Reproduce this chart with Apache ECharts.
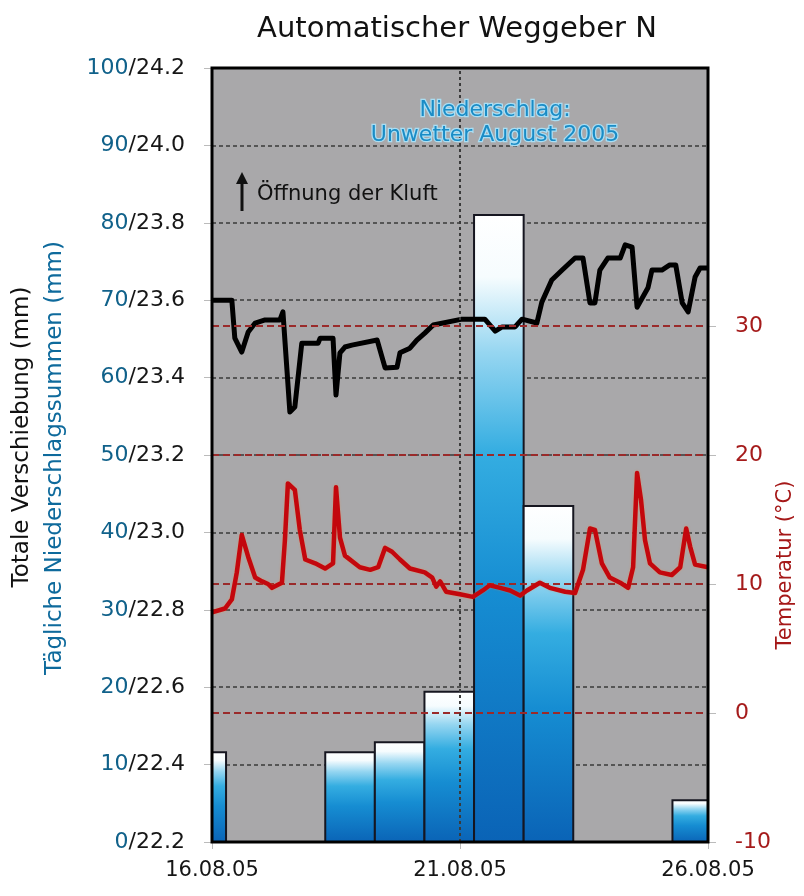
<!DOCTYPE html>
<html><head><meta charset="utf-8">
<script src="https://cdn.jsdelivr.net/npm/echarts@6/dist/echarts.min.js"></script>
<style>html,body{margin:0;padding:0;background:#fff}#c{width:804px;height:896px}</style>
</head><body><div id="c"></div>
<script>
// ---- data ----
const xTickLabels = ['16.08.05', '21.08.05', '26.08.05'];          // every 5 days from 16.08.05
const rainTicks = [0, 10, 20, 30, 40, 50, 60, 70, 80, 90, 100];
const dispTicks = ['22.2', '22.4', '22.6', '22.8', '23.0', '23.2', '23.4', '23.6', '23.8', '24.0', '24.2'];
const tempTicks = [-10, 0, 10, 20, 30];
const tempGrid = [0, 10, 20, 30];

// daily precipitation: day offset from 16.08.05 of the measuring period start, mm
const rainDayOffset = [-1, 2, 3, 4, 5, 6, 9];
const rainMm = [11.6, 11.6, 12.9, 19.4, 81.0, 43.4, 5.4];
const rainStartHour = 6.8;

// total displacement (mm), day offset from 16.08.05 00:00
const dispDay = [0,0.40,0.46,0.60,0.73,0.87,1.07,1.37,1.43,1.57,1.67,1.81,2.14,2.18,2.44,2.50,2.58,2.68,2.82,3.33,3.49,3.73,3.79,3.99,4.13,4.29,4.46,5.04,5.50,5.71,5.85,6.11,6.25,6.55,6.65,6.85,7.06,7.32,7.48,7.62,7.72,7.82,7.98,8.23,8.33,8.47,8.57,8.79,8.87,9.07,9.23,9.35,9.48,9.60,9.74,9.84,10];
const dispMm = [23.600,23.600,23.502,23.466,23.518,23.541,23.549,23.549,23.570,23.311,23.324,23.489,23.489,23.502,23.502,23.355,23.464,23.479,23.484,23.497,23.425,23.427,23.464,23.476,23.497,23.515,23.536,23.551,23.551,23.520,23.531,23.531,23.551,23.541,23.595,23.652,23.678,23.709,23.709,23.593,23.593,23.678,23.709,23.709,23.743,23.737,23.582,23.632,23.678,23.678,23.691,23.691,23.593,23.570,23.660,23.683,23.683];

// temperature (°C)
const tempDay = [0,0.26,0.40,0.50,0.60,0.73,0.87,1.01,1.13,1.21,1.41,1.47,1.53,1.67,1.77,1.88,2.08,2.28,2.44,2.50,2.58,2.68,2.98,3.19,3.35,3.49,3.63,3.79,3.99,4.29,4.44,4.52,4.60,4.72,5.00,5.26,5.46,5.60,5.81,6.01,6.21,6.35,6.61,6.81,7.12,7.32,7.48,7.62,7.72,7.86,8.02,8.23,8.39,8.49,8.57,8.65,8.73,8.83,9.03,9.27,9.44,9.56,9.64,9.74,10];
const tempC = [7.8,8.1,8.8,10.9,13.8,12.1,10.5,10.2,10.0,9.7,10.1,13.4,17.8,17.3,14.2,11.9,11.6,11.2,11.6,17.5,13.6,12.2,11.3,11.1,11.3,12.8,12.5,11.9,11.2,10.9,10.5,9.8,10.2,9.4,9.2,9.0,9.5,9.9,9.7,9.5,9.1,9.5,10.1,9.7,9.4,9.3,11.1,14.3,14.2,11.6,10.5,10.1,9.7,11.3,18.6,16.5,13.4,11.6,10.9,10.7,11.3,14.3,12.9,11.5,11.3];

// ---- build ----
const FONT = 'DejaVu Sans';
const rainData = rainDayOffset.map((d, i) => {
  const s = d + rainStartHour / 24;
  return [s, s + 1, rainMm[i]];
});
const dispData = dispDay.map((d, i) => [d, dispMm[i]]);
const tempData = tempDay.map((d, i) => [d, tempC[i]]);

const chart = echarts.init(document.getElementById('c'), null, {renderer: 'canvas'});

const barGradient = () => new echarts.graphic.LinearGradient(0, 0, 0, 1, [
  {offset: 0, color: '#ffffff'},
  {offset: 0.1, color: '#f6fcfe'},
  {offset: 0.22, color: '#96d6f1'},
  {offset: 0.38, color: '#34ade1'},
  {offset: 0.6, color: '#168dd2'},
  {offset: 1, color: '#0a63b6'}
]);

const option = {
  animation: false,
  backgroundColor: '#ffffff',
  grid: {left: 212, top: 68, right: 96, bottom: 54, show: true, backgroundColor: '#a9a8aa', borderWidth: 0},
  xAxis: {
    type: 'value', min: 0, max: 10, interval: 5,
    axisLine: {show: false},
    axisTick: {show: true, length: 7, lineStyle: {color: '#bbbbbb', width: 1}},
    splitLine: {show: false},
    axisLabel: {
      margin: 18, fontFamily: FONT, fontSize: 21, color: '#151515',
      formatter: v => xTickLabels[Math.round(v / 5)] || ''
    }
  },
  yAxis: [
    {
      type: 'value', min: 0, max: 100, interval: 10, position: 'left',
      axisLine: {show: false},
      axisTick: {show: true, length: 8, lineStyle: {color: '#bbbbbb'}},
      splitLine: {show: true, lineStyle: {color: '#3a3a3a', width: 1.5, type: [4, 3]}},
      axisLabel: {
        margin: 27, fontFamily: FONT, fontSize: 22,
        formatter: v => {
          const i = rainTicks.indexOf(v);
          return '{a|' + v + '}{b|/' + dispTicks[i] + '}';
        },
        rich: {
          a: {color: '#10618a', fontFamily: FONT, fontSize: 22},
          b: {color: '#161616', fontFamily: FONT, fontSize: 22}
        }
      }
    },
    {
      type: 'value', min: -10, max: 50, interval: 10, position: 'right',
      axisLine: {show: false},
      splitLine: {show: false},
      axisTick: {show: true, length: 8, customValues: tempTicks, lineStyle: {color: '#bbbbbb'}},
      axisLabel: {
        margin: 27, fontFamily: FONT, fontSize: 22, color: '#a51b1b',
        customValues: tempTicks,
        formatter: v => (v <= 30 ? String(v) : '')
      }
    },
    {type: 'value', min: 22.2, max: 24.2, show: false, position: 'left', splitLine: {show: false}}
  ],
  series: [
    {
      type: 'custom', name: 'Niederschlag', z: 2,
      xAxisIndex: 0, yAxisIndex: 0,
      encode: {x: [0, 1], y: 2},
      data: rainData,
      renderItem: (params, api) => {
        const p0 = api.coord([api.value(0), api.value(2)]);
        const p1 = api.coord([api.value(1), 0]);
        const cs = params.coordSys;
        const r = echarts.graphic.clipRectByRect(
          {x: p0[0], y: p0[1], width: p1[0] - p0[0], height: p1[1] - p0[1]},
          {x: cs.x, y: cs.y, width: cs.width, height: cs.height}
        );
        if (!r) return null;
        return {type: 'rect', shape: r, style: {fill: barGradient(), stroke: '#161620', lineWidth: 2}};
      }
    },
    {
      type: 'line', name: 'Verschiebung', z: 4, yAxisIndex: 2,
      data: dispData, symbol: 'none',
      lineStyle: {color: '#000000', width: 5, join: 'round'}
    },
    {
      type: 'line', name: 'Temperatur', z: 5, yAxisIndex: 1,
      data: tempData, symbol: 'none',
      lineStyle: {color: '#c3070d', width: 4.5, join: 'round', shadowColor: 'rgba(255,140,60,0.5)', shadowBlur: 2},
      markLine: {
        silent: true, symbol: 'none', label: {show: false},
        lineStyle: {type: [7, 4], color: '#9a2a2a', width: 2},
        data: tempGrid.map(v => ({yAxis: v}))
          .concat([{xAxis: 5, lineStyle: {type: [3, 3], color: '#3a3a3a', width: 2}}])
      }
    }
  ],
  graphic: [
    {type: 'rect', z: 100, silent: true, shape: {x: 212, y: 68, width: 496, height: 774},
      style: {fill: 'none', stroke: '#000', lineWidth: 3}},
    {type: 'text', x: 457, y: 29, style: {text: 'Automatischer Weggeber N', font: '29px "DejaVu Sans"', fill: '#111', align: 'center', verticalAlign: 'middle'}},
    {type: 'text', z: 50, x: 495, y: 110, style: {text: 'Niederschlag:', font: '22px "DejaVu Sans"', fill: '#1a8cc6', stroke: '#a9def4', lineWidth: 2.5, align: 'center', verticalAlign: 'middle'}},
    {type: 'text', z: 50, x: 495, y: 135, style: {text: 'Unwetter August 2005', font: '22px "DejaVu Sans"', fill: '#1a8cc6', stroke: '#a9def4', lineWidth: 2.5, align: 'center', verticalAlign: 'middle'}},
    {type: 'text', z: 50, x: 257, y: 195, style: {text: 'Öffnung der Kluft', font: '21px "DejaVu Sans"', fill: '#111', align: 'left', verticalAlign: 'middle'}},
    {type: 'line', z: 50, shape: {x1: 242, y1: 211, x2: 242, y2: 182}, style: {stroke: '#111', lineWidth: 3}},
    {type: 'polygon', z: 50, shape: {points: [[236, 184], [248, 184], [242, 172]]}, style: {fill: '#111'}},
    {type: 'text', x: 22, y: 437, rotation: Math.PI / 2, style: {text: 'Totale Verschiebung (mm)', font: '23px "DejaVu Sans"', fill: '#111', align: 'center', verticalAlign: 'middle'}},
    {type: 'text', x: 55, y: 458, rotation: Math.PI / 2, style: {text: 'Tägliche Niederschlagssummen (mm)', font: '23px "DejaVu Sans"', fill: '#0e6a9c', align: 'center', verticalAlign: 'middle'}},
    {type: 'text', x: 786, y: 565, rotation: Math.PI / 2, style: {text: 'Temperatur (°C)', font: '21px "DejaVu Sans"', fill: '#a51818', align: 'center', verticalAlign: 'middle'}}
  ]
};
chart.setOption(option);
</script>
</body></html>
